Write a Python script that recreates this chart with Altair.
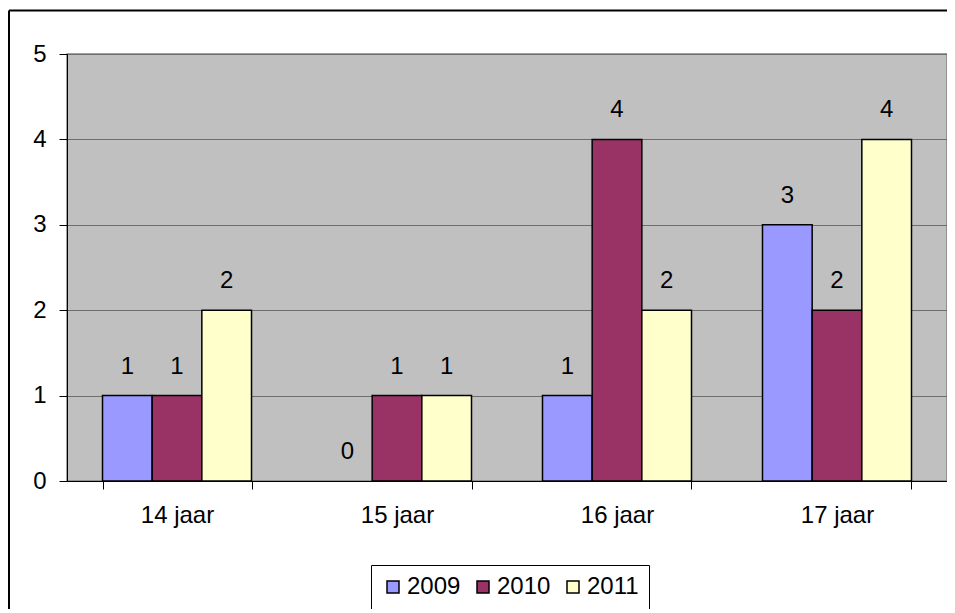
import altair as alt
import pandas as pd

ages = ["14 jaar", "15 jaar", "16 jaar", "17 jaar"]
years = ["2009", "2010", "2011"]
v2009 = [1, 0, 1, 3]
v2010 = [1, 1, 4, 2]
v2011 = [2, 1, 2, 4]
colors = ["#9999FF", "#993366", "#FFFFCC"]

rows = []
for i, a in enumerate(ages):
    for y, vals in zip(years, [v2009, v2010, v2011]):
        rows.append({"age": a, "year": y, "value": vals[i]})
df = pd.DataFrame(rows)

FONT = "Liberation Sans"
FS = 24

xenc = alt.X("age:N", sort=ages, title=None,
             scale=alt.Scale(paddingInner=0.3227, paddingOuter=0.1614),
             axis=alt.Axis(labelAngle=0, labelFontSize=FS, labelFont=FONT, labelColor="black",
                           domainColor="black", tickColor="black", tickSize=8,
                           tickBand="extent", labelPadding=14, grid=False))
yenc = alt.Y("value:Q", title=None,
             scale=alt.Scale(domain=[0, 5], nice=False),
             axis=alt.Axis(values=[0, 1, 2, 3, 4, 5], format="d", labelFontSize=FS,
                           labelFont=FONT, labelColor="black", domainColor="black",
                           tickColor="black", tickSize=8, labelPadding=13,
                           gridColor="#6e6e6e", gridWidth=1))

bars = alt.Chart(df).transform_filter("datum.value > 0").mark_bar(
    stroke="black", strokeWidth=1.5).encode(
    x=xenc,
    y=yenc,
    xOffset=alt.XOffset("year:N", sort=years, scale=alt.Scale(domain=years)),
    color=alt.Color("year:N", sort=years, title=None,
                    scale=alt.Scale(domain=years, range=colors),
                    legend=alt.Legend(orient="none", legendX=304, legendY=511,
                                      direction="horizontal", symbolType="square",
                                      symbolSize=144, symbolStrokeColor="black",
                                      symbolStrokeWidth=1.5, labelFontSize=FS,
                                      labelFont=FONT, labelColor="black",
                                      labelOffset=2, columnPadding=10, padding=10,
                                      strokeColor="black", fillColor="white")),
)

labels = alt.Chart(df).mark_text(dy=-22, baseline="alphabetic", fontSize=FS,
                                 font=FONT, color="black").encode(
    x=alt.X("age:N", sort=ages),
    y="value:Q",
    xOffset=alt.XOffset("year:N", sort=years, scale=alt.Scale(domain=years)),
    text="value:Q",
)

frame_left = alt.Chart(alt.Data(values=[{}])).mark_rule(color="black", strokeWidth=2).encode(
    x=alt.value(-58), y=alt.value(-43.5), y2=alt.value(560))
frame_top = alt.Chart(alt.Data(values=[{}])).mark_rule(color="black", strokeWidth=2).encode(
    x=alt.value(-58), x2=alt.value(900), y=alt.value(-43.5))

chart = alt.layer(bars, labels, frame_left, frame_top).properties(
    width=880, height=427,
    autosize=alt.AutoSizeParams(type="none"),
    padding={"left": 59, "top": 46, "right": 0, "bottom": 128},
    background="white",
).configure_view(fill="#C0C0C0", stroke="#808080", strokeWidth=1.5)

chart.save("out.html", embed_options={"renderer": "svg", "actions": False})
